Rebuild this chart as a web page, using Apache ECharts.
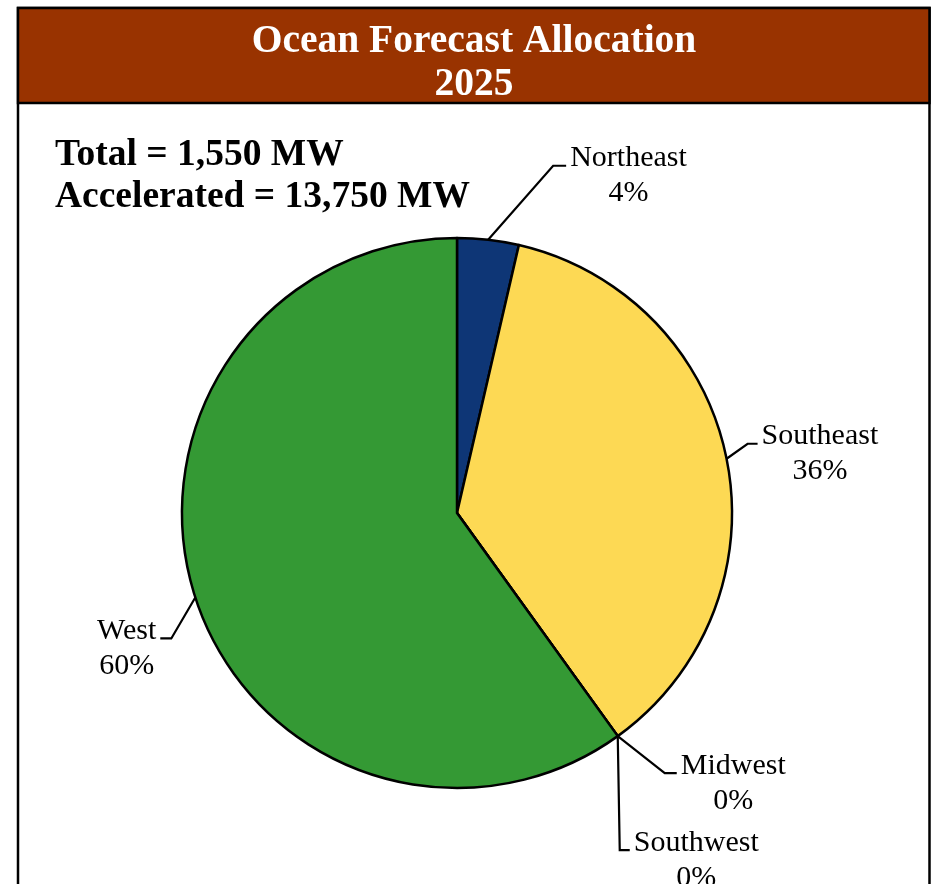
<!DOCTYPE html>
<html>
<head>
<meta charset="utf-8">
<script src="https://cdn.jsdelivr.net/npm/echarts@6/dist/echarts.min.js"></script>
<style>
  html, body { margin: 0; padding: 0; background: #ffffff; }
  #chart { width: 934px; height: 884px; }
</style>
</head>
<body>
<div id="chart"></div>
<script>
// ---- Data ----
const titleLines = ['Ocean Forecast Allocation', '2025'];
const summaryLines = ['Total = 1,550 MW', 'Accelerated = 13,750 MW'];
const categories = ['Northeast', 'Southeast', 'Midwest', 'Southwest', 'West'];
const valuesMW = [56, 565, 0, 0, 929];
const colors = ['#0E3676', '#FDD954', '#C0C0C0', '#808080', '#349934'];

// ---- Label guide offsets (styling: elbow and end of leader line relative to arc point) ----
const guideOffsets = [
  [[65, -74], [78, -74]],
  [[21, -15], [31, -15]],
  [[47, 37], [59, 37]],
  [[2, 114], [12, 114]],
  [[-24, 41], [-35, 41]]
];

const FONT = '"Liberation Serif", "Times New Roman", serif';

const chart = echarts.init(document.getElementById('chart'), null, { renderer: 'canvas' });

const option = {
  animation: false,
  backgroundColor: '#ffffff',
  graphic: [
    {
      type: 'rect', z: -10,
      shape: { x: 18, y: 8, width: 911.5, height: 950 },
      style: { fill: '#ffffff', stroke: '#000000', lineWidth: 2.5 }
    },
    {
      type: 'rect', z: -9,
      shape: { x: 18, y: 8, width: 911.5, height: 95 },
      style: { fill: '#993300', stroke: '#000000', lineWidth: 2.5 }
    }
  ],
  title: [
    {
      text: titleLines.join('\n'),
      left: 474,
      textAlign: 'center',
      top: 20,
      padding: 0,
      textStyle: {
        color: '#ffffff', fontFamily: FONT, fontWeight: 'bold',
        fontSize: 39.5, lineHeight: 43
      }
    },
    {
      text: summaryLines.join('\n'),
      left: 55,
      top: 134,
      padding: 0,
      textStyle: {
        color: '#000000', fontFamily: FONT, fontWeight: 'bold',
        fontSize: 37.5, lineHeight: 42
      }
    }
  ],
  series: [
    {
      type: 'pie',
      center: [457, 513],
      radius: 275,
      startAngle: 90,
      clockwise: true,
      minShowLabelAngle: 0,
      avoidLabelOverlap: false,
      data: categories.map((c, i) => ({ name: c, value: valuesMW[i], itemStyle: { color: colors[i] } })),
      itemStyle: { borderColor: '#000000', borderWidth: 2.5 },
      emphasis: { disabled: true },
      label: {
        show: true,
        position: 'outside',
        formatter: p => p.name + '\n' + Math.round(p.percent) + '%',
        color: '#000000',
        fontFamily: FONT,
        fontSize: 30,
        lineHeight: 35,
        align: 'center'
      },
      labelLine: {
        show: true,
        length: 30,
        length2: 12,
        smooth: false,
        lineStyle: { color: '#000000', width: 2.2 }
      },
      labelLayout: function (p) {
        const pts = p.labelLinePoints;
        if (!pts || !pts.length) return {};
        const g = guideOffsets[p.dataIndex];
        const s = pts[0];
        const elbow = [s[0] + g[0][0], s[1] + g[0][1]];
        const end = [s[0] + g[1][0], s[1] + g[1][1]];
        const side = g[1][0] >= g[0][0] ? 1 : -1;
        const w = p.labelRect.width;
        return {
          x: end[0] + side * (4 + w / 2),
          y: end[1] + 10,
          align: 'center',
          verticalAlign: 'middle',
          labelLinePoints: [s, elbow, end]
        };
      }
    }
  ]
};

chart.setOption(option);
</script>
</body>
</html>
